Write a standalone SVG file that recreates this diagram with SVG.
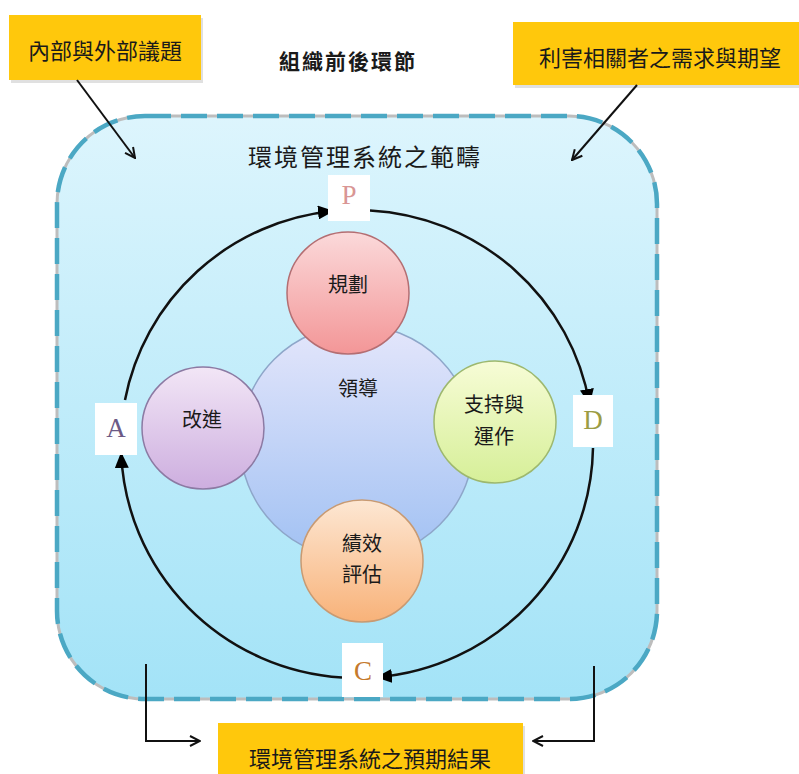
<svg xmlns="http://www.w3.org/2000/svg" width="799" height="774" viewBox="0 0 799 774">
<defs>
<style>
.cjk{font-family:"Noto Sans CJK TC","Noto Sans CJK SC",sans-serif;fill:#1a1a1a;text-anchor:middle;dominant-baseline:central}
.box{fill:#FFC80C}
.shadow{fill:#000;opacity:0.12}
.letter{font-family:"Liberation Serif","DejaVu Serif",serif;font-size:27px;text-anchor:middle;dominant-baseline:central}
.lbl{fill:#fff}
.cyc{fill:none;stroke:#111;stroke-width:2.5;marker-end:url(#tri)}
.ln{fill:none;stroke:#111;stroke-width:2;marker-end:url(#vee)}
</style>
<linearGradient id="gBg" x1="0" y1="0" x2="0" y2="1"><stop offset="0" stop-color="#DDF5FD"/><stop offset="1" stop-color="#A3E3F7"/></linearGradient>
<linearGradient id="gLead" x1="0" y1="0" x2="0" y2="1"><stop offset="0" stop-color="#E4E6FB"/><stop offset="1" stop-color="#A1C1F3"/></linearGradient>
<linearGradient id="gPlan" x1="0" y1="0" x2="0" y2="1"><stop offset="0" stop-color="#FBD9DA"/><stop offset="1" stop-color="#F39697"/></linearGradient>
<linearGradient id="gSup" x1="0" y1="0" x2="0" y2="1"><stop offset="0" stop-color="#F7FCD6"/><stop offset="1" stop-color="#D6EF98"/></linearGradient>
<linearGradient id="gPerf" x1="0" y1="0" x2="0" y2="1"><stop offset="0" stop-color="#FDE7D3"/><stop offset="1" stop-color="#F8B279"/></linearGradient>
<linearGradient id="gImp" x1="0" y1="0" x2="0" y2="1"><stop offset="0" stop-color="#F2E6F6"/><stop offset="1" stop-color="#CDAEDF"/></linearGradient>
<marker id="tri" markerWidth="16" markerHeight="14" refX="15" refY="7" orient="auto" markerUnits="userSpaceOnUse"><path d="M0,0 L16,7 L0,14 Z" fill="#000"/></marker>
<marker id="vee" markerWidth="12" markerHeight="12" refX="11" refY="6" orient="auto" markerUnits="userSpaceOnUse"><path d="M1,1 L11,6 L1,11" fill="none" stroke="#111" stroke-width="2"/></marker>
</defs>
<rect width="799" height="774" fill="#fff"/>

<g id="scope">
<rect x="57" y="116" width="600" height="583" rx="88" ry="88" fill="url(#gBg)" stroke="#BDBDBD" stroke-width="3"/>
<rect x="57" y="116" width="600" height="583" rx="88" ry="88" fill="none" stroke="#4BA8C4" stroke-width="4.5" stroke-dasharray="26 10"/>
<text class="cjk" x="365" y="155" font-size="24" letter-spacing="2">環境管理系統之範疇</text>
</g>

<g id="title">
<text class="cjk" x="348" y="60" font-size="21" font-weight="bold" letter-spacing="2">組織前後環節</text>
</g>

<g id="internal">
<rect class="shadow" x="11" y="18" width="192" height="65"/>
<rect class="box" x="9" y="15" width="192" height="65"/>
<text class="cjk" x="105" y="49" font-size="22">內部與外部議題</text>
</g>

<g id="stakeholders">
<rect class="shadow" x="515" y="25" width="284" height="63"/>
<rect class="box" x="513" y="22" width="286" height="63"/>
<text class="cjk" x="660" y="56" font-size="22">利害相關者之需求與期望</text>
</g>

<g id="outcome">
<rect class="shadow" x="220" y="726" width="305" height="48"/>
<rect class="box" x="218" y="723" width="305" height="51"/>
<text class="cjk" x="370" y="757" font-size="22">環境管理系統之預期結果</text>
</g>

<g id="connectors">
<path class="cyc" d="M125,400 A236,234 0 0,1 333,211"/>
<path class="cyc" d="M370,210.4 A236,234 0 0,1 589.5,404"/>
<path class="cyc" d="M593,448 A236,234 0 0,1 377,677.2"/>
<path class="cyc" d="M342,677.5 A236,234 0 0,1 121.2,453"/>
<path class="ln" d="M77,80 L135,158"/>
<path class="ln" d="M637,85 L572,160"/>
<path class="ln" d="M146,664 L146,741 L200,741"/>
<path class="ln" d="M594,666 L594,741 L533,741"/>
</g>

<g id="label-P"><rect class="lbl" x="328" y="175" width="42" height="46"/><text class="letter" x="349" y="195" fill="#D99694">P</text></g>
<g id="label-D"><rect class="lbl" x="573" y="395" width="40" height="52"/><text class="letter" x="593" y="420" fill="#9C9C44">D</text></g>
<g id="label-C"><rect class="lbl" x="342" y="643" width="41" height="54"/><text class="letter" x="363" y="671" fill="#C57A2D">C</text></g>
<g id="label-A"><rect class="lbl" x="95" y="403" width="42" height="52"/><text class="letter" x="116" y="428" fill="#6C5A86">A</text></g>

<g id="leadership">
<circle cx="357" cy="442" r="117" fill="url(#gLead)" stroke="#8EA6C9" stroke-width="1.5"/>
<text class="cjk" x="358" y="387" font-size="20">領導</text>
</g>
<g id="planning">
<circle cx="348" cy="293" r="61" fill="url(#gPlan)" stroke="#B46E72" stroke-width="1.5"/>
<text class="cjk" x="348" y="283" font-size="20">規劃</text>
</g>
<g id="support">
<circle cx="495" cy="422" r="61" fill="url(#gSup)" stroke="#9DB86E" stroke-width="1.5"/>
<text class="cjk" x="494" y="403" font-size="20">支持與</text>
<text class="cjk" x="494" y="435" font-size="20">運作</text>
</g>
<g id="performance">
<circle cx="362" cy="561" r="61" fill="url(#gPerf)" stroke="#C89A72" stroke-width="1.5"/>
<text class="cjk" x="362" y="542" font-size="20">績效</text>
<text class="cjk" x="362" y="573" font-size="20">評估</text>
</g>
<g id="improvement">
<circle cx="203" cy="428" r="61" fill="url(#gImp)" stroke="#8C7AA3" stroke-width="1.5"/>
<text class="cjk" x="202" y="418" font-size="20">改進</text>
</g>
</svg>
